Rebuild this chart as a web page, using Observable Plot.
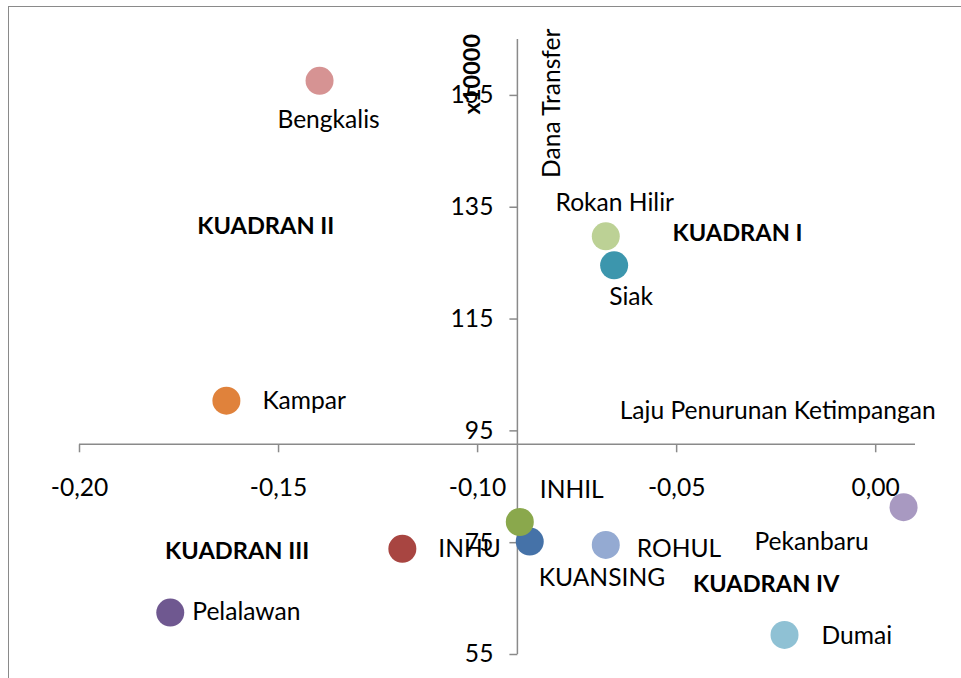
<!DOCTYPE html>
<html><head><meta charset="utf-8">
<script src="https://cdn.jsdelivr.net/npm/d3@7"></script>
<script src="https://cdn.jsdelivr.net/npm/@observablehq/plot@0.6"></script>
<style>
body{margin:0;background:#fff;}
#wrap{position:relative;width:961px;height:678px;overflow:hidden;background:#fff;}
#border{position:absolute;left:8px;top:6px;width:1000px;height:1000px;border:1.5px solid #8a8a8a;}
#chart{position:absolute;left:0;top:0;}
</style></head><body>
<div id="wrap"><div id="border"></div><div id="chart"></div></div>
<script>
// ---- data ----
const regions   = ["Bengkalis","Rokan Hilir","Siak","Kampar","KUANSING","INHIL","INHU","ROHUL","Pelalawan","Pekanbaru","Dumai"];
const lajuPenurunan = [-0.1397,-0.0678,-0.0657,-0.1631,-0.0869,-0.0894,-0.1189,-0.0678,-0.1772,0.0070,-0.0229];
const danaTransfer  = [157.6,129.8,124.6,100.4,75.2,78.7,73.9,74.6,62.5,81.35,58.5];
const pointColors   = ["#d69393","#bcd195","#3c96ad","#e0823b","#4572a8","#8aa84c","#a84541","#94aad2","#6f5890","#a899c1","#8fc1d4"];
const xTicks = [-0.20,-0.15,-0.10,-0.05,0.00];
const xTickLabels = ["-0,20","-0,15","-0,10","-0,05","0,00"];
const yTicks = [55,75,95,115,135,155];
const yTickLabels = ["55","75","95","115","135","155"];
const quadrantNames = ["KUADRAN II","KUADRAN I","KUADRAN III","KUADRAN IV"];
const quadrantX = [-0.1532,-0.0347,-0.1604,-0.0275];
const quadrantY = [131.6,130.4,73.5,67.5];
const xCross = -0.09;   // vertical axis position
const yCross = 92.6;    // horizontal axis position
const xDomain = [-0.20, 0.01];
const yDomain = [55, 165];

// ---- label placement (styles) ----
const labelPlace = {
  "Bengkalis":  {anchor:"middle", dx:9,   dy:39},
  "Rokan Hilir":{anchor:"middle", dx:9,   dy:-33},
  "Siak":       {anchor:"middle", dx:17,  dy:32},
  "Kampar":     {anchor:"start",  dx:36,  dy:0},
  "KUANSING":   {anchor:"start",  dx:9,   dy:37},
  "INHIL":      {anchor:"start",  dx:20,  dy:-32},
  "INHU":       {anchor:"start",  dx:36,  dy:0},
  "ROHUL":      {anchor:"start",  dx:31,  dy:4},
  "Pelalawan":  {anchor:"start",  dx:22,  dy:0},
  "Pekanbaru":  {anchor:"middle", dx:-92, dy:35},
  "Dumai":      {anchor:"start",  dx:37,  dy:1}
};

const points = regions.map((r,i)=>({name:r, x:lajuPenurunan[i], y:danaTransfer[i], c:pointColors[i]}));
const xt = xTicks.map((v,i)=>({v, label:xTickLabels[i]}));
const yt = yTicks.map((v,i)=>({v, label:yTickLabels[i]}));
const quads = quadrantNames.map((n,i)=>({n, x:quadrantX[i], y:quadrantY[i]}));

const tickDown = {draw(ctx){ctx.moveTo(0,0); ctx.lineTo(0,8);}};
const tickLeft = {draw(ctx){ctx.moveTo(0,0); ctx.lineTo(-8,0);}};
const axisColor = "#8a8a8a";
const FS = 24.6;
const FSB = 23.6;

const labelMarks = points.map(p => {
  const pl = labelPlace[p.name];
  return Plot.text([p], {x:"x", y:"y", text:"name", textAnchor:pl.anchor, dx:pl.dx, dy:pl.dy, fill:"#000", fontSize:FS});
});

const chart = Plot.plot({
  width: 961, height: 678,
  marginLeft: 79, marginRight: 46, marginTop: 39, marginBottom: 24,
  style: {fontFamily: "Lato, 'Open Sans', sans-serif", background: "transparent"},
  x: {domain: xDomain, axis: null},
  y: {domain: yDomain, axis: null},
  marks: [
    // axes lines
    Plot.ruleY([yCross], {x1: xDomain[0], x2: xDomain[1], stroke: axisColor, strokeWidth: 1.5}),
    Plot.ruleX([xCross], {y1: yDomain[0], y2: yDomain[1], stroke: axisColor, strokeWidth: 1.5}),
    Plot.dot(xt, {x:"v", y:()=>yCross, symbol: tickDown, stroke: axisColor, strokeWidth: 1.5, fill: "none"}),
    Plot.dot(yt, {x:()=>xCross, y:"v", symbol: tickLeft, stroke: axisColor, strokeWidth: 1.5, fill: "none"}),
    Plot.text(xt, {x:"v", y:()=>yCross, text:"label", dy:44, fontSize:FS, fill:"#000"}),
    Plot.text(yt, {x:()=>xCross, y:"v", text:"label", dx:-24, textAnchor:"end", fontSize:FS, fill:"#000"}),
    // axis titles
    Plot.text(["Laju Penurunan Ketimpangan"], {x:()=>-0.0246, y:()=>98.6, text:d=>d, fontSize:FS, fill:"#000"}),
    Plot.text(["Dana Transfer"], {x:()=>-0.0814, y:()=>153.6, text:d=>d, rotate:-90, fontSize:FS, fill:"#000"}),
    Plot.text(["x10000"], {x:()=>-0.1012, y:()=>158.8, text:d=>d, rotate:-90, fontSize:FSB, fontWeight:"bold", fill:"#000"}),
    // quadrant labels
    Plot.text(quads, {x:"x", y:"y", text:"n", fontSize:FSB, fontWeight:"bold", fill:"#000"}),
    // points
    Plot.dot(points, {x:"x", y:"y", r:14, fill:"c", stroke:"none"}),
    ...labelMarks
  ]
});
document.getElementById("chart").appendChild(chart);
</script>
</body></html>
